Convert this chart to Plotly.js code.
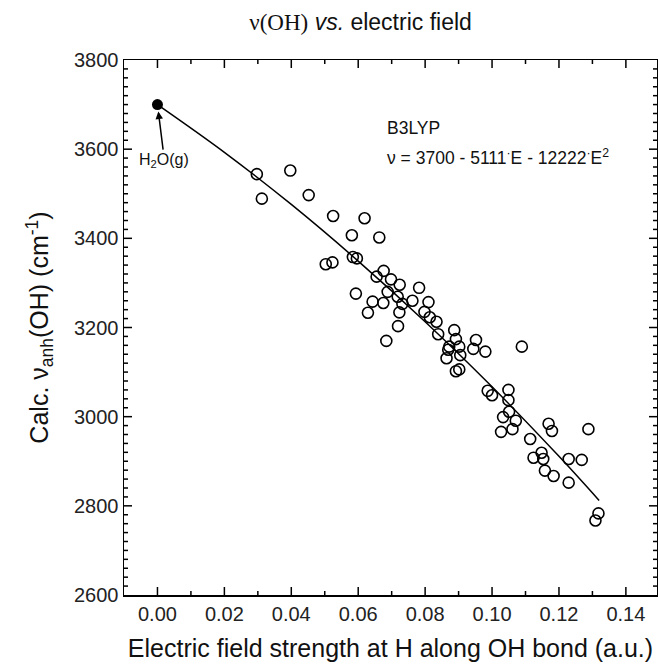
<!DOCTYPE html>
<html>
<head>
<meta charset="utf-8">
<script src="https://cdn.plot.ly/plotly-3.0.1.min.js"></script>
<style>html,body{margin:0;padding:0;background:#fff;overflow:hidden;}</style>
</head>
<body>
<div id="chart" style="width:658px;height:670px;"></div>
<script>
// Calculated OH frequencies vs. electric field (open circles)
const fieldE = [0.0297,0.0312,0.0397,0.0452,0.0525,0.0619,0.0581,0.0663,0.0503,0.0523,
  0.0584,0.0596,0.0676,0.0655,0.0698,0.0724,0.0782,0.0688,0.0718,0.0593,
  0.0643,0.0675,0.0732,0.0762,0.0810,0.0723,0.0629,0.0798,0.0814,0.0834,
  0.0839,0.0719,0.0684,0.0887,0.0892,0.0872,0.0869,0.0902,0.0952,0.0944,
  0.0980,0.0864,0.0905,0.1089,0.0892,0.0902,0.0987,0.1000,0.1049,0.1049,
  0.1051,0.1033,0.1071,0.1027,0.1061,0.1169,0.1179,0.1288,0.1114,0.1124,
  0.1148,0.1153,0.1158,0.1184,0.1229,0.1268,0.1229,0.1318,0.1309];
const nuOH = [3544,3489,3552,3497,3450,3445,3407,3402,3342,3346,
  3358,3355,3327,3314,3308,3296,3289,3280,3269,3276,
  3258,3255,3253,3260,3257,3234,3233,3235,3223,3213,
  3185,3203,3170,3194,3174,3157,3150,3157,3172,3152,
  3146,3131,3138,3157,3102,3106,3058,3048,3060,3037,
  3011,2999,2991,2966,2972,2984,2968,2972,2950,2908,
  2919,2905,2879,2867,2905,2903,2852,2783,2767];

// Gas-phase water
const gasE = [0.0];
const gasNu = [3700];

// Fitted curve
const fitE = [0.0, 0.02, 0.04, 0.06, 0.08, 0.10, 0.12, 0.132];
const fitNu = [3700, 3593, 3476, 3349, 3213, 3067, 2911, 2812];

// Axis tick values
const xMajor = [0.00, 0.02, 0.04, 0.06, 0.08, 0.10, 0.12, 0.14];
const xMinor = [0.01, 0.03, 0.05, 0.07, 0.09, 0.11, 0.13];
const yMajor = [2600, 2800, 3000, 3200, 3400, 3600, 3800];
const yMinorStep = 20;

const sans = 'Arial, "Liberation Sans", sans-serif';
const W = 658, H = 670, M = {l: 124, r: 1, t: 60, b: 75};
const plotW = W - M.l - M.r, plotH = H - M.t - M.b;

const traces = [
  {x: fitE, y: fitNu, mode: 'lines', line: {color: '#000', width: 1.5, shape: 'spline'}, hoverinfo: 'skip'},
  {x: fieldE, y: nuOH, mode: 'markers', type: 'scatter',
   marker: {symbol: 'circle-open', size: 11, color: '#000', line: {width: 1.6, color: '#000'}}},
  {x: gasE, y: gasNu, mode: 'markers', marker: {symbol: 'circle', size: 11, color: '#000'}}
];

// inside ticks on all four sides, drawn as shapes
const shapes = [];
function tickLine(props) {
  shapes.push(Object.assign({type: 'line', layer: 'above', line: {color: '#000', width: 1.5}}, props));
}
function xTick(v, len) {
  const f = len / plotH;
  tickLine({xref: 'x', yref: 'paper', x0: v, x1: v, y0: 0, y1: f});
  tickLine({xref: 'x', yref: 'paper', x0: v, x1: v, y0: 1, y1: 1 - f});
}
function yTick(v, len) {
  const f = len / plotW;
  tickLine({xref: 'paper', yref: 'y', x0: 0, x1: f, y0: v, y1: v});
  tickLine({xref: 'paper', yref: 'y', x0: 1, x1: 1 - f, y0: v, y1: v});
}
xMajor.forEach(function(v){ xTick(v, 8); });
xMinor.forEach(function(v){ xTick(v, 4); });
yMajor.forEach(function(v){ if (v > 2600 && v < 3800) yTick(v, 8); });
for (let v = yMajor[0] + yMinorStep; v < yMajor[yMajor.length - 1]; v += yMinorStep) {
  if (v % 200 !== 0) yTick(v, 4);
}

function axisBase() {
  return {
    showline: true, linecolor: '#000', linewidth: 1.5, mirror: true,
    ticks: '', showgrid: false, zeroline: false,
    tickfont: {family: sans, size: 20, color: '#222'}
  };
}

const layout = {
  width: W, height: H,
  margin: M,
  paper_bgcolor: '#fff', plot_bgcolor: '#fff',
  showlegend: false,
  title: {
    text: '<span style="font-family:\'Liberation Serif\', \'Times New Roman\', serif">ν(OH)</span> <i>vs.</i> electric field',
    font: {family: sans, size: 23, color: '#111'},
    x: 0.548, xanchor: 'center', y: 0.967, yanchor: 'middle'
  },
  xaxis: Object.assign(axisBase(), {
    range: [-0.01, 0.1493], tickmode: 'array', tickvals: xMajor, tickformat: '.2f',
    title: {text: 'Electric field strength at H along OH bond (a.u.)', font: {family: sans, size: 25, color: '#111'}, standoff: 16}
  }),
  yaxis: Object.assign(axisBase(), {
    range: [2600, 3800], tickmode: 'array', tickvals: yMajor,
    title: {text: 'Calc. ν<sub>anh</sub>(OH) (cm<sup>-1</sup>)', font: {family: sans, size: 25, color: '#111'}, standoff: 18}
  }),
  shapes: shapes,
  annotations: [
    {x: 0.0681, y: 3647, xref: 'x', yref: 'y', text: 'B3LYP', showarrow: false,
     xanchor: 'left', yanchor: 'middle', font: {family: sans, size: 17.5, color: '#111'}},
    {x: 0.0681, y: 3582, xref: 'x', yref: 'y', text: 'ν = 3700 - 5111<sup>·</sup>E - 12222<sup>·</sup>E<sup>2</sup>', showarrow: false,
     xanchor: 'left', yanchor: 'middle', font: {family: sans, size: 17.5, color: '#111'}},
    {x: 0, y: 3700, xref: 'x', yref: 'y', text: 'H<sub>2</sub>O(g)', showarrow: true,
     ax: 7, ay: 56, arrowhead: 2, arrowsize: 1, arrowwidth: 1.5, arrowcolor: '#000', standoff: 7,
     font: {family: sans, size: 16, color: '#111'}}
  ]
};

Plotly.newPlot('chart', traces, layout, {staticPlot: true, displayModeBar: false});
</script>
</body>
</html>
